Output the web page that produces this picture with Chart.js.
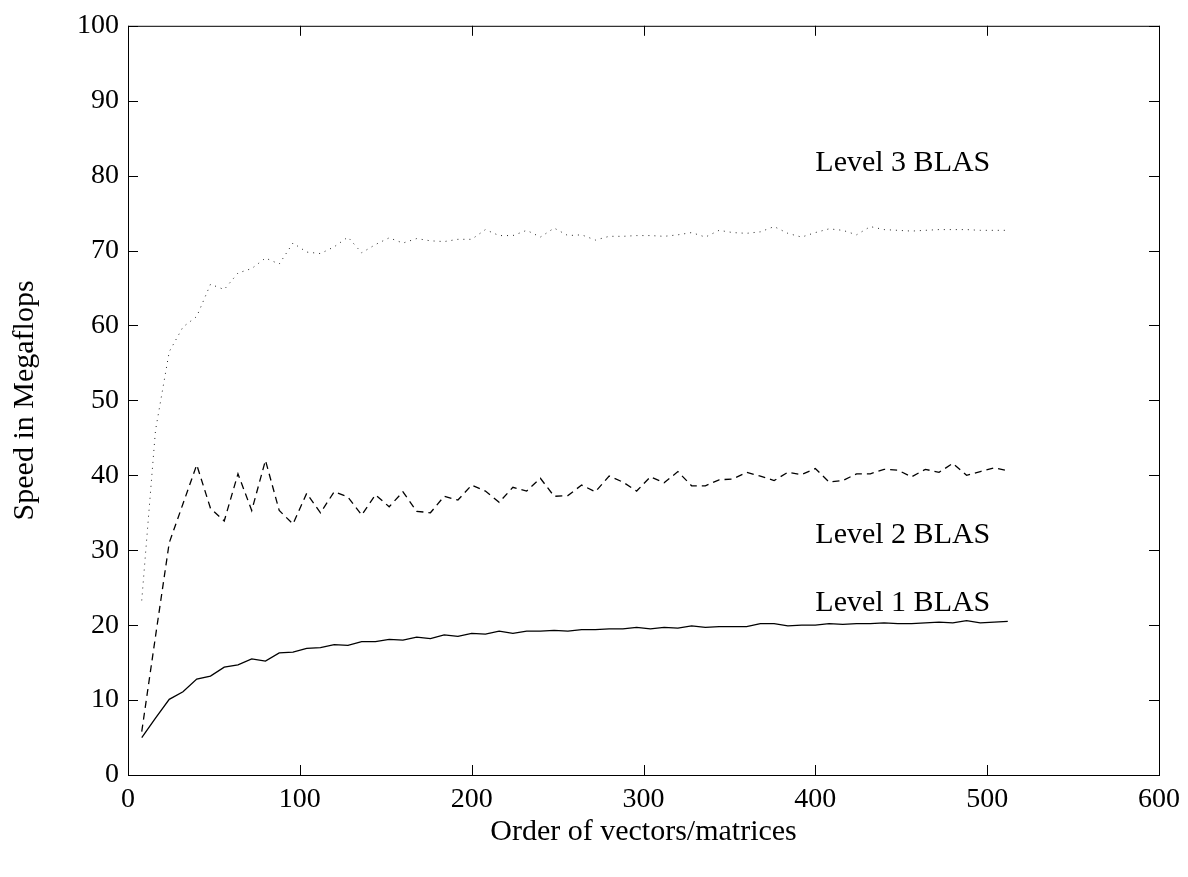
<!DOCTYPE html>
<html>
<head>
<meta charset="utf-8">
<title>BLAS speed</title>
<script src="https://cdn.jsdelivr.net/npm/chart.js@4.4.1/dist/chart.umd.min.js"></script>
<style>
    body { margin: 0; background: #fff; }
    #wrap { width: 1188px; height: 877px; }
</style>
</head>
<body>
<div id="wrap"><canvas id="myChart" width="1188" height="877"></canvas></div>
<script>
// Order of vectors/matrices (x values of every point)
const orders = [8, 16, 24, 32, 40, 48, 56, 64, 72, 80, 88, 96, 104, 112, 120, 128,
    136, 144, 152, 160, 168, 176, 184, 192, 200, 208, 216, 224, 232, 240, 248, 256,
    264, 272, 280, 288, 296, 304, 312, 320, 328, 336, 344, 352, 360, 368, 376, 384,
    392, 400, 408, 416, 424, 432, 440, 448, 456, 464, 472, 480, 488, 496, 504, 512];

// Speed in Megaflops
const level1 = [5.0, 7.6, 10.1, 11.1, 12.8, 13.2, 14.4, 14.7, 15.5, 15.2, 16.3, 16.4, 16.9, 17.0, 17.4, 17.3,
    17.8, 17.8, 18.1, 18.0, 18.4, 18.2, 18.7, 18.5, 18.9, 18.8, 19.2, 18.9, 19.2, 19.2, 19.3, 19.2,
    19.4, 19.4, 19.5, 19.5, 19.7, 19.5, 19.7, 19.6, 19.9, 19.7, 19.8, 19.8, 19.8, 20.2, 20.2, 19.9,
    20.0, 20.0, 20.2, 20.1, 20.2, 20.2, 20.3, 20.2, 20.2, 20.3, 20.4, 20.3, 20.6, 20.3, 20.4, 20.5];

const level2 = [5.8, 18.5, 31.0, 36.2, 41.4, 35.6, 33.9, 40.2, 35.3, 42.0, 35.3, 33.5, 37.6, 35.0, 37.8, 37.1,
    34.7, 37.4, 35.8, 37.8, 35.2, 35.0, 37.2, 36.7, 38.7, 37.9, 36.4, 38.4, 37.9, 39.6, 37.2, 37.3,
    38.7, 37.8, 39.9, 39.1, 37.9, 39.8, 39.0, 40.5, 38.6, 38.6, 39.4, 39.5, 40.4, 39.9, 39.3, 40.4,
    40.1, 40.9, 39.1, 39.3, 40.2, 40.2, 40.8, 40.7, 39.8, 40.8, 40.4, 41.6, 40.0, 40.5, 41.0, 40.6];

const level3 = [23.3, 46.0, 56.5, 59.8, 61.2, 65.5, 64.8, 67.0, 67.6, 69.0, 68.2, 71.0, 69.8, 69.6, 70.5, 71.8,
    69.7, 70.8, 71.7, 71.0, 71.6, 71.3, 71.2, 71.5, 71.5, 72.8, 72.0, 72.0, 72.7, 71.8, 73.0, 72.0,
    72.1, 71.4, 71.9, 71.9, 72.0, 72.0, 71.9, 72.1, 72.4, 71.8, 72.7, 72.4, 72.3, 72.5, 73.2, 72.3,
    71.8, 72.4, 72.9, 72.7, 72.1, 73.2, 72.8, 72.7, 72.6, 72.7, 72.8, 72.8, 72.8, 72.7, 72.7, 72.7];

// Curve labels written inside the plot, in data coordinates
const curveNames = ['Level 3 BLAS', 'Level 2 BLAS', 'Level 1 BLAS'];
const curveNameX = [400, 400, 400];
const curveNameY = [81.7, 32.0, 22.9];

const FONT = "'Liberation Serif', 'Times New Roman', serif";

const toPoints = function (ys) {
    return orders.map((x, i) => ({ x: x, y: ys[i] }));
};

/*
    Box round the plot with ticks pointing inwards, plus the curve labels
*/
const framePlugin = {
    id: 'frame',
    afterDraw(chart) {
        const ctx = chart.ctx;
        const area = chart.chartArea;
        const xs = chart.scales.x;
        const ys = chart.scales.y;
        const len = 10;
        ctx.save();
        ctx.strokeStyle = '#000';
        ctx.lineWidth = 1;
        ctx.strokeRect(area.left + 0.5, area.top + 0.5, area.right - area.left, area.bottom - area.top);
        ctx.beginPath();
        xs.ticks.forEach(t => {
            const px = Math.round(xs.getPixelForValue(t.value)) + 0.5;
            ctx.moveTo(px, area.bottom);
            ctx.lineTo(px, area.bottom - len);
            ctx.moveTo(px, area.top);
            ctx.lineTo(px, area.top + len);
        });
        ys.ticks.forEach(t => {
            const py = Math.round(ys.getPixelForValue(t.value)) + 0.5;
            ctx.moveTo(area.left, py);
            ctx.lineTo(area.left + len, py);
            ctx.moveTo(area.right, py);
            ctx.lineTo(area.right - len, py);
        });
        ctx.stroke();

        ctx.fillStyle = '#000';
        ctx.font = '30px ' + FONT;
        ctx.textAlign = 'left';
        ctx.textBaseline = 'middle';
        curveNames.forEach((name, i) => {
            ctx.fillText(name, xs.getPixelForValue(curveNameX[i]), ys.getPixelForValue(curveNameY[i]));
        });
        ctx.restore();
    }
};

const ctx = document.getElementById('myChart').getContext('2d');
const myChart = new Chart(ctx, {
    type: 'line',
    data: {
        datasets: [{
            label: 'Level 1 BLAS',
            data: toPoints(level1),
            borderColor: '#000',
            borderWidth: 1.3,
            pointRadius: 0,
            tension: 0,
            fill: false
        }, {
            label: 'Level 2 BLAS',
            data: toPoints(level2),
            borderColor: '#000',
            borderWidth: 1.3,
            borderDash: [7, 5],
            pointRadius: 0,
            tension: 0,
            fill: false
        }, {
            label: 'Level 3 BLAS',
            data: toPoints(level3),
            borderColor: '#222',
            borderWidth: 1,
            borderDash: [1, 5],
            pointRadius: 0,
            tension: 0,
            fill: false
        }]
    },
    options: {
        responsive: false,
        animation: false,
        devicePixelRatio: 1,
        layout: {
            padding: { top: 25, right: 28, bottom: 0, left: 0 }
        },
        plugins: {
            legend: { display: false },
            tooltip: { enabled: false }
        },
        scales: {
            x: {
                type: 'linear',
                min: 0,
                max: 600,
                grid: { display: false, drawTicks: false },
                border: { display: false },
                ticks: {
                    stepSize: 100,
                    padding: 8,
                    color: '#000',
                    maxRotation: 0,
                    font: { family: FONT, size: 28 }
                },
                title: {
                    display: true,
                    text: 'Order of vectors/matrices',
                    color: '#000',
                    font: { family: FONT, size: 30 },
                    padding: { top: 0, bottom: 27 }
                },
                afterFit: function (scale) {
                    scale.height = 102;
                }
            },
            y: {
                min: 0,
                max: 100,
                grid: { display: false, drawTicks: false },
                border: { display: false },
                ticks: {
                    stepSize: 10,
                    padding: 9,
                    color: '#000',
                    font: { family: FONT, size: 28 }
                },
                title: {
                    display: true,
                    text: 'Speed in Megaflops',
                    color: '#000',
                    font: { family: FONT, size: 30 },
                    padding: { top: 7, bottom: 0 }
                },
                afterFit: function (scale) {
                    scale.width = 128;
                }
            }
        }
    },
    plugins: [framePlugin]
});
</script>
</body>
</html>
